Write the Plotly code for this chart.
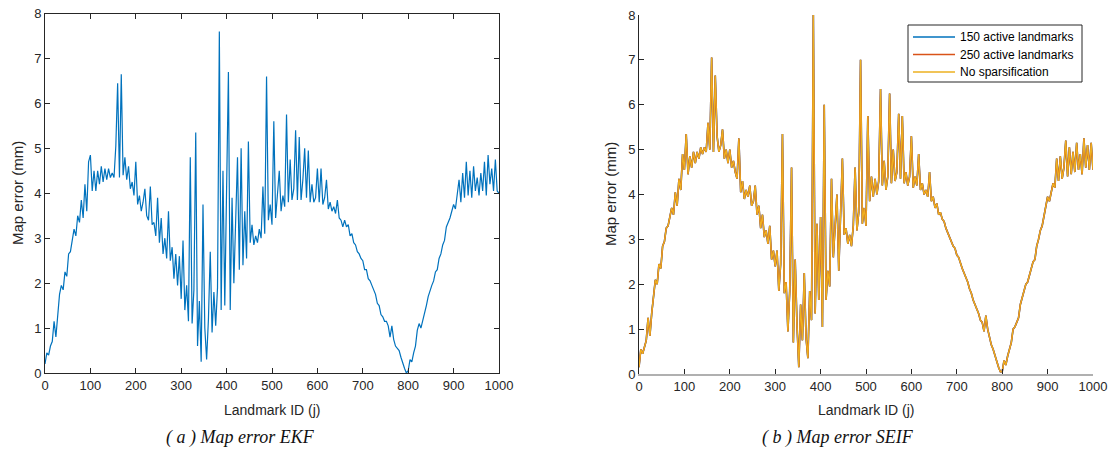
import plotly.graph_objects as go

# landmark index (every 4th landmark)
landmark_ids = list(range(0, 1001, 4))

ekf_error = [
    0.20, 0.45, 0.40, 0.60, 0.70, 1.15, 0.80, 1.25, 1.75, 1.95,
    1.85, 2.25, 2.15, 2.65, 2.70, 2.95, 3.20, 3.05, 3.50, 3.35,
    3.85, 3.45, 4.20, 3.60, 4.70, 4.85, 4.05, 4.50, 4.05, 4.50,
    4.20, 4.60, 4.25, 4.55, 4.30, 4.55, 4.35, 4.45, 4.35, 5.05,
    6.45, 4.35, 6.65, 4.40, 4.80, 4.30, 4.60, 4.10, 4.25, 3.95,
    4.70, 3.75, 3.95, 3.60, 3.80, 4.10, 3.50, 3.40, 4.15, 3.30,
    3.35, 3.05, 3.90, 2.90, 3.45, 2.65, 3.00, 2.55, 3.60, 2.50,
    2.80, 2.10, 2.65, 1.95, 2.60, 1.65, 2.95, 1.40, 1.95, 1.15,
    4.80, 1.10, 1.85, 5.35, 0.60, 1.60, 0.25, 3.75, 1.00, 0.30,
    1.20, 2.70, 0.90, 1.80, 1.05, 1.90, 7.60, 1.40, 4.50, 1.50,
    3.90, 6.70, 1.40, 3.90, 2.00, 3.20, 4.80, 2.30, 5.00, 2.40,
    3.60, 2.55, 5.15, 2.90, 3.30, 2.85, 3.05, 2.90, 3.20, 3.00,
    4.15, 3.10, 6.60, 3.40, 3.75, 3.30, 5.60, 3.45, 3.90, 4.50,
    3.60, 3.95, 3.70, 5.75, 3.80, 4.75, 3.85, 4.10, 5.40, 3.85,
    5.25, 3.85, 4.30, 5.00, 3.90, 4.95, 3.80, 4.20, 3.80, 3.90,
    4.55, 3.80, 4.55, 3.75, 3.90, 4.30, 3.65, 3.80, 3.60, 3.70,
    3.55, 3.85, 3.45, 3.40, 3.25, 3.40, 3.25, 3.30, 3.05, 3.10,
    2.90, 2.85, 2.70, 2.65, 2.55, 2.50, 2.30, 2.30, 2.10, 2.05,
    1.95, 1.85, 1.75, 1.55, 1.50, 1.30, 1.25, 1.15, 1.15, 1.05,
    0.80, 1.05, 0.75, 0.60, 0.55, 0.50, 0.35, 0.20, 0.10, 0.00,
    0.05, 0.30, 0.25, 0.45, 0.60, 0.95, 1.10, 1.00, 1.15, 1.35,
    1.50, 1.70, 1.85, 1.95, 2.05, 2.25, 2.30, 2.55, 2.65, 2.85,
    2.95, 3.25, 3.35, 3.45, 3.60, 3.75, 3.65, 3.95, 4.30, 3.80,
    4.45, 3.90, 4.70, 3.95, 4.50, 3.90, 4.60, 4.05, 4.35, 3.95,
    4.45, 4.05, 4.70, 3.95, 4.85, 4.20, 4.55, 4.05, 4.75, 4.05,
    4.00,
]

seif_error = [
    0.15, 0.55, 0.45, 0.60, 0.75, 1.25, 0.85, 1.35, 1.80, 2.10,
    2.00, 2.45, 2.35, 2.85, 2.95, 3.25, 3.30, 3.55, 3.70, 3.55,
    4.05, 3.75, 4.35, 4.10, 4.90, 4.55, 5.35, 4.45, 4.85, 4.60,
    4.95, 4.70, 4.95, 4.80, 5.05, 4.90, 5.05, 4.95, 5.60, 5.00,
    7.05, 4.95, 6.65, 5.30, 4.95, 5.10, 5.45, 4.80, 5.00, 4.70,
    5.00, 4.60, 4.75, 4.50, 4.35, 5.25, 4.05, 4.30, 3.90, 4.10,
    3.95, 4.20, 3.75, 3.85, 4.20, 3.55, 3.75, 3.25, 3.55, 3.05,
    3.20, 2.90, 3.30, 2.55, 2.75, 2.40, 2.75, 1.85, 2.45, 5.35,
    1.80, 2.05, 0.95, 1.85, 4.60, 0.70, 2.55, 1.10, 0.15, 1.55,
    0.75, 2.25, 0.80, 0.35, 1.85, 1.20, 8.00, 1.35, 3.35, 1.65,
    3.50, 1.05, 6.00, 1.65, 2.30, 1.95, 4.35, 2.60, 3.20, 4.00,
    2.30, 3.40, 4.80, 3.10, 3.25, 2.90, 3.10, 2.85, 3.30, 4.60,
    3.20, 3.60, 7.00, 3.35, 3.70, 3.30, 5.75, 3.85, 4.40, 3.95,
    4.35, 4.00, 4.30, 6.35, 4.20, 4.75, 4.10, 4.40, 6.25, 4.25,
    5.00, 4.30, 4.50, 5.80, 4.35, 5.75, 4.25, 4.50, 4.20, 4.40,
    5.30, 4.15, 4.40, 4.20, 4.90, 4.10, 4.25, 4.00, 4.10, 3.95,
    4.50, 3.85, 3.95, 3.70, 3.80, 3.55, 3.60, 3.45, 3.40, 3.25,
    3.15, 3.05, 2.95, 2.85, 2.80, 2.65, 2.60, 2.45, 2.35, 2.25,
    2.15, 2.05, 1.90, 1.80, 1.65, 1.55, 1.45, 1.35, 1.20, 1.15,
    0.95, 1.30, 1.00, 0.80, 0.65, 0.55, 0.40, 0.25, 0.15, 0.05,
    0.05, 0.30, 0.20, 0.40, 0.55, 0.70, 1.00, 1.05, 1.15, 1.25,
    1.55, 1.70, 1.85, 2.00, 2.05, 2.20, 2.35, 2.50, 2.55, 2.85,
    3.00, 3.20, 3.30, 3.50, 3.70, 3.95, 3.85, 4.10, 4.25, 4.15,
    4.80, 4.30, 4.85, 4.35, 4.60, 5.20, 4.40, 5.05, 4.45, 4.95,
    4.50, 5.15, 4.55, 4.90, 4.45, 5.25, 4.60, 5.10, 4.55, 5.15,
    4.55,
]

seif_names = ['150 active landmarks', '250 active landmarks', 'No sparsification']
seif_colors = ['#0072BD', '#D95319', '#EDB120']

x_ticks = list(range(0, 1001, 100))
y_ticks = list(range(0, 9))

W, H = 1114, 453
axis_color = '#262626'
font = 'Liberation Sans, Arial, sans-serif'


def px_x(p):
    return p / W


def px_y(p):
    return 1 - p / H


fig = go.Figure()

fig.add_trace(go.Scatter(x=landmark_ids, y=ekf_error, mode='lines',
                         line=dict(color='#0072BD', width=1.2),
                         showlegend=False, xaxis='x', yaxis='y'))

for name, color in zip(seif_names, seif_colors):
    width = 1.2 if name == 'No sparsification' else 1.6
    fig.add_trace(go.Scatter(x=landmark_ids, y=seif_error, mode='lines',
                             name=name, line=dict(color=color, width=width),
                             showlegend=False, xaxis='x2', yaxis='y2'))

common = dict(tickfont=dict(family=font, size=13, color=axis_color),
              ticks='inside', ticklen=5, tickcolor=axis_color,
              showline=True, linecolor=axis_color, linewidth=1,
              showgrid=False, zeroline=False, automargin=False)

fig.update_layout(
    width=W, height=H,
    margin=dict(l=0, r=0, t=0, b=0),
    paper_bgcolor='white', plot_bgcolor='white',
    xaxis=dict(domain=[px_x(45), px_x(499)], range=[0, 1000], tickvals=x_ticks,
               mirror='ticks', anchor='y', **common),
    yaxis=dict(domain=[px_y(373), px_y(13.5)], range=[0, 8], tickvals=y_ticks,
               mirror='ticks', anchor='x', **common),
    xaxis2=dict(domain=[px_x(639), px_x(1093)], range=[0, 1000], tickvals=x_ticks,
                anchor='y2', **{**common, 'linecolor': '#b0b0b0', 'linewidth': 1.5}),
    yaxis2=dict(domain=[px_y(374), px_y(15)], range=[0, 8], tickvals=y_ticks,
                anchor='x2', **common),
)

# MATLAB-style legend box (compact rows), drawn in paper space
fig.add_shape(type='rect', xref='paper', yref='paper',
              x0=px_x(908), x1=px_x(1082), y0=px_y(82), y1=px_y(25),
              line=dict(color=axis_color, width=1), fillcolor='white')
for i, (name, color) in enumerate(zip(seif_names, seif_colors)):
    row_y = 37 + i * 17.5
    fig.add_shape(type='line', xref='paper', yref='paper',
                  x0=px_x(913), x1=px_x(955), y0=px_y(row_y), y1=px_y(row_y),
                  line=dict(color=color, width=1.5))
    fig.add_annotation(text=name, x=px_x(958), y=px_y(row_y), xref='paper', yref='paper',
                       showarrow=False, xanchor='left', yanchor='middle',
                       font=dict(family=font, size=12, color='#000000'))

labels = [
    ('Map error (mm)', 18, 193, 90, 15),
    ('Map error (mm)', 611, 194, 90, 15),
    ('Landmark ID (j)', 272, 410, 0, 14),
    ('Landmark ID (j)', 866, 410, 0, 14),
]
for text, x, y, rot, size in labels:
    fig.add_annotation(text=text, x=px_x(x), y=px_y(y), xref='paper', yref='paper',
                       showarrow=False, textangle=-rot, xanchor='center', yanchor='middle',
                       font=dict(family=font, size=size, color=axis_color))

captions = [('<i>( a ) Map error EKF</i>', 241), ('<i>( b ) Map error SEIF</i>', 838)]
for text, x in captions:
    fig.add_annotation(text=text, x=px_x(x), y=px_y(437), xref='paper', yref='paper',
                       showarrow=False, xanchor='center', yanchor='middle',
                       font=dict(family='Liberation Serif, Times New Roman, serif',
                                 size=18, color='#111111'))

# drop the default page margin so the figure sits at the window's corner
fig.write_html("out.html", config={'displayModeBar': False},
               post_script="document.body.style.margin='0';")
